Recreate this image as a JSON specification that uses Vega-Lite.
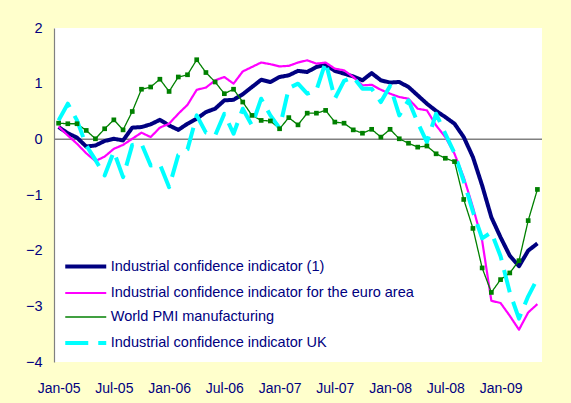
{
  "$schema": "https://vega.github.io/schema/vega-lite/v6.json",
  "width": 488,
  "height": 334,
  "autosize": {"type": "none"},
  "padding": {"left": 54, "top": 28, "right": 29, "bottom": 41},
  "background": "#FFFFCC",
  "config": {"view": {"fill": "white", "stroke": null}, "font": "Liberation Sans"},
  "data": {"values": [
    {"m": "Jan-05", "ici": 0.22, "ea": 0.23, "pmi": 0.29, "uk": 0.34},
    {"m": "Feb-05", "ici": 0.11, "ea": 0.07, "pmi": 0.28, "uk": 0.64},
    {"m": "Mar-05", "ici": 0.03, "ea": -0.08, "pmi": 0.28, "uk": 0.34},
    {"m": "Apr-05", "ici": -0.13, "ea": -0.25, "pmi": 0.16, "uk": -0.11},
    {"m": "May-05", "ici": -0.11, "ea": -0.39, "pmi": 0.01, "uk": -0.37},
    {"m": "Jun-05", "ici": -0.03, "ea": -0.31, "pmi": 0.19, "uk": -0.65},
    {"m": "Jul-05", "ici": 0.01, "ea": -0.17, "pmi": 0.35, "uk": -0.22},
    {"m": "Aug-05", "ici": -0.02, "ea": -0.10, "pmi": 0.17, "uk": -0.68},
    {"m": "Sep-05", "ici": 0.21, "ea": 0.01, "pmi": 0.50, "uk": -0.10},
    {"m": "Oct-05", "ici": 0.22, "ea": 0.12, "pmi": 0.90, "uk": -0.08},
    {"m": "Nov-05", "ici": 0.27, "ea": 0.04, "pmi": 0.94, "uk": -0.47},
    {"m": "Dec-05", "ici": 0.35, "ea": 0.21, "pmi": 1.08, "uk": -0.45},
    {"m": "Jan-06", "ici": 0.25, "ea": 0.28, "pmi": 0.86, "uk": -0.86},
    {"m": "Feb-06", "ici": 0.17, "ea": 0.46, "pmi": 1.12, "uk": -0.28},
    {"m": "Mar-06", "ici": 0.28, "ea": 0.62, "pmi": 1.16, "uk": -0.18},
    {"m": "Apr-06", "ici": 0.37, "ea": 0.89, "pmi": 1.43, "uk": 0.43},
    {"m": "May-06", "ici": 0.49, "ea": 0.93, "pmi": 1.20, "uk": 0.12},
    {"m": "Jun-06", "ici": 0.55, "ea": 1.06, "pmi": 1.03, "uk": 0.07},
    {"m": "Jul-06", "ici": 0.70, "ea": 1.12, "pmi": 0.82, "uk": 0.46},
    {"m": "Aug-06", "ici": 0.71, "ea": 1.00, "pmi": 0.90, "uk": 0.10},
    {"m": "Sep-06", "ici": 0.81, "ea": 1.22, "pmi": 0.67, "uk": 0.55},
    {"m": "Oct-06", "ici": 0.94, "ea": 1.30, "pmi": 0.43, "uk": 0.25},
    {"m": "Nov-06", "ici": 1.07, "ea": 1.38, "pmi": 0.34, "uk": 0.73},
    {"m": "Dec-06", "ici": 1.03, "ea": 1.35, "pmi": 0.33, "uk": 0.43},
    {"m": "Jan-07", "ici": 1.12, "ea": 1.31, "pmi": 0.19, "uk": 0.20},
    {"m": "Feb-07", "ici": 1.15, "ea": 1.32, "pmi": 0.39, "uk": 0.92},
    {"m": "Mar-07", "ici": 1.23, "ea": 1.38, "pmi": 0.26, "uk": 1.00},
    {"m": "Apr-07", "ici": 1.21, "ea": 1.42, "pmi": 0.47, "uk": 0.82},
    {"m": "May-07", "ici": 1.30, "ea": 1.36, "pmi": 0.47, "uk": 0.88},
    {"m": "Jun-07", "ici": 1.34, "ea": 1.38, "pmi": 0.52, "uk": 1.39},
    {"m": "Jul-07", "ici": 1.23, "ea": 1.27, "pmi": 0.31, "uk": 0.73},
    {"m": "Aug-07", "ici": 1.18, "ea": 1.24, "pmi": 0.29, "uk": 1.05},
    {"m": "Sep-07", "ici": 1.13, "ea": 1.12, "pmi": 0.17, "uk": 1.12},
    {"m": "Oct-07", "ici": 1.06, "ea": 0.97, "pmi": 0.11, "uk": 0.91},
    {"m": "Nov-07", "ici": 1.19, "ea": 0.98, "pmi": 0.18, "uk": 0.91},
    {"m": "Dec-07", "ici": 1.06, "ea": 0.89, "pmi": 0.04, "uk": 0.67},
    {"m": "Jan-08", "ici": 1.02, "ea": 0.82, "pmi": 0.18, "uk": 0.96},
    {"m": "Feb-08", "ici": 1.03, "ea": 0.76, "pmi": 0.01, "uk": 0.43},
    {"m": "Mar-08", "ici": 0.94, "ea": 0.73, "pmi": -0.07, "uk": 0.70},
    {"m": "Apr-08", "ici": 0.79, "ea": 0.55, "pmi": -0.14, "uk": 0.30},
    {"m": "May-08", "ici": 0.64, "ea": 0.52, "pmi": -0.12, "uk": -0.05},
    {"m": "Jun-08", "ici": 0.51, "ea": 0.25, "pmi": -0.26, "uk": 0.46},
    {"m": "Jul-08", "ici": 0.40, "ea": 0.04, "pmi": -0.34, "uk": 0.10},
    {"m": "Aug-08", "ici": 0.28, "ea": -0.26, "pmi": -0.40, "uk": -0.25},
    {"m": "Sep-08", "ici": 0.04, "ea": -0.68, "pmi": -1.08, "uk": -0.75},
    {"m": "Oct-08", "ici": -0.32, "ea": -1.22, "pmi": -1.60, "uk": -1.30},
    {"m": "Nov-08", "ici": -0.83, "ea": -1.82, "pmi": -2.31, "uk": -1.78},
    {"m": "Dec-08", "ici": -1.40, "ea": -2.90, "pmi": -2.75, "uk": -1.67},
    {"m": "Jan-09", "ici": -1.76, "ea": -2.94, "pmi": -2.52, "uk": -2.10},
    {"m": "Feb-09", "ici": -2.09, "ea": -3.17, "pmi": -2.40, "uk": -2.75},
    {"m": "Mar-09", "ici": -2.28, "ea": -3.42, "pmi": -2.18, "uk": -3.22},
    {"m": "Apr-09", "ici": -2.00, "ea": -3.11, "pmi": -1.46, "uk": -2.82},
    {"m": "May-09", "ici": -1.87, "ea": -2.96, "pmi": -0.90, "uk": -2.50}
  ]},
  "layer": [
    {
      "data": {"values": [{"z": 0}]},
      "mark": {"type": "rule", "color": "#808080", "strokeWidth": 1.5},
      "encoding": {"y": {"field": "z", "type": "quantitative"}}
    },
    {
      "transform": [{"fold": ["ici", "ea", "pmi", "uk"], "as": ["series", "value"]}],
      "mark": {"type": "line", "strokeJoin": "round"},
      "encoding": {
        "x": {"field": "m", "type": "ordinal", "sort": null, "scale": {"type": "point", "padding": 0.5},
          "axis": {"values": ["Jan-05", "Jul-05", "Jan-06", "Jul-06", "Jan-07", "Jul-07", "Jan-08", "Jul-08", "Jan-09"],
            "title": null, "domain": false, "ticks": false, "labelAngle": 0, "labelFontSize": 14, "labelColor": "#000080", "labelPadding": 19, "labelFont": "Liberation Sans"}},
        "y": {"field": "value", "type": "quantitative", "scale": {"domain": [-4, 2], "nice": false, "zero": false},
          "axis": {"values": [-4, -3, -2, -1, 0, 1, 2], "format": "d", "title": null, "grid": false, "ticks": false, "domainColor": "#808080", "domainWidth": 1.2, "labelFontSize": 14.5, "labelColor": "#000080", "labelPadding": 12, "labelFont": "Liberation Sans"}},
        "color": {"field": "series", "type": "nominal",
          "scale": {"domain": ["ici", "ea", "pmi", "uk"], "range": ["#000080", "#FF00FF", "#008000", "#00FFFF"]},
          "legend": {"orient": "none", "legendX": 19.25, "legendY": 226, "title": null, "symbolType": "M-2,0H2", "symbolSize": 420,
            "labelFontSize": 14.5, "labelColor": "#000080", "labelFont": "Liberation Sans", "labelOffset": 12.5, "labelLimit": 0, "rowPadding": 6.5, "padding": 0,
            "labelExpr": "datum.label == 'ici' ? 'Industrial confidence indicator (1)' : datum.label == 'ea' ? 'Industrial confidence indicator for the euro area' : datum.label == 'pmi' ? 'World PMI manufacturing' : 'Industrial confidence indicator UK'"}},
        "strokeDash": {"field": "series", "type": "nominal",
          "scale": {"type": "ordinal", "domain": ["ici", "ea", "pmi", "uk"], "range": [[1, 0], [1, 0], [1, 0], [23, 10]]}},
        "strokeWidth": {"field": "series", "type": "nominal",
          "scale": {"type": "ordinal", "domain": ["ici", "ea", "pmi", "uk"], "range": [4, 2.2, 1.3, 4]}}
      }
    },
    {
      "transform": [{"fold": ["pmi"], "as": ["series", "value"]}],
      "mark": {"type": "square", "filled": true, "color": "#008000", "size": 22, "opacity": 1},
      "encoding": {
        "x": {"field": "m", "type": "ordinal", "sort": null},
        "y": {"field": "value", "type": "quantitative"}
      }
    }
  ]
}
